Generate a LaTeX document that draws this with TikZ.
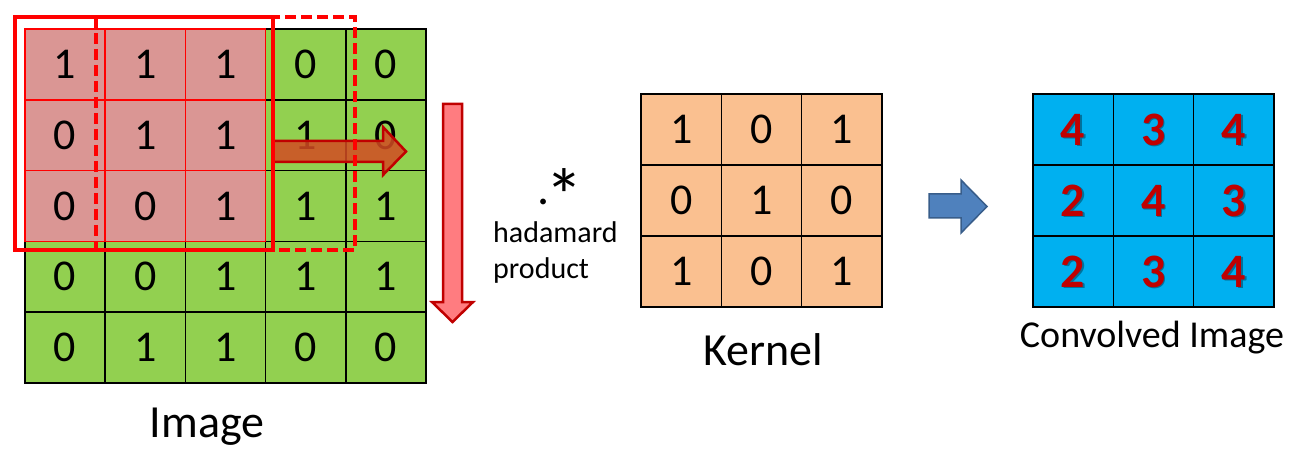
\documentclass[tikz,border=0pt]{standalone}
\usepackage{fontspec}
\setmainfont{Carlito}
\definecolor{imggreen}{RGB}{146,208,80}
\definecolor{imgpink}{RGB}{218,150,148}
\definecolor{kerorange}{RGB}{250,192,144}
\definecolor{convblue}{RGB}{0,176,240}
\definecolor{darkred}{RGB}{192,0,0}
\definecolor{brightred}{RGB}{255,0,0}
\definecolor{arroworange}{RGB}{210,76,35}
\definecolor{arrowpink}{RGB}{255,124,128}
\definecolor{arrowblue}{RGB}{79,129,189}
\definecolor{arrowblueedge}{RGB}{56,93,138}
\begin{document}
\begin{tikzpicture}[x=1pt,y=-1pt,
  basecell/.style={line width=1.6pt,inner sep=0pt,font=\fontsize{44}{44}\selectfont},
  greencell/.style={basecell,draw=black,fill=imggreen,minimum width=80.2pt,minimum height=70.8pt},
  pinkcell/.style={basecell,draw=brightred,fill=imgpink,minimum width=80.2pt,minimum height=70.8pt},
  kercell/.style={basecell,draw=black,fill=kerorange,minimum width=80.3pt,minimum height=71pt},
  convcell/.style={basecell,draw=black,fill=convblue,minimum width=80.3pt,minimum height=71pt},
  convtxt/.style={inner sep=0pt,text=darkred,font=\fontsize{48}{48}\selectfont\bfseries},
  shadowtxt/.style={convtxt,text=black,text opacity=0.35},
  labeltxt/.style={anchor=base,inner sep=0pt,font=\fontsize{46}{46}\selectfont},
  smalltxt/.style={anchor=base west,inner sep=0pt,font=\fontsize{30}{30}\selectfont},
  optxt/.style={anchor=base west,inner sep=0pt,font=\fontsize{48}{48}\selectfont},
  blockarrow/.style={line width=2.5pt,line join=miter}
]
\useasboundingbox (0,0) rectangle (1304,457);

% ---- Image grid ----
\def\imgvals{1,1,1,0,0, 0,1,1,1,0, 0,0,1,1,1, 0,0,1,1,1, 0,1,1,0,0}
\foreach \v [count=\i from 0] in \imgvals {
  \pgfmathtruncatemacro\r{\i/5}
  \pgfmathtruncatemacro\c{\i-5*\r}
  \pgfmathtruncatemacro\p{and(\r<3,\c<3)}
  \ifnum\p=0
    \node[greencell] (img-\r-\c) at ({65.1+80.2*\c},{64.4+70.8*\r}) {\v};
  \fi
}
\foreach \v [count=\i from 0] in \imgvals {
  \pgfmathtruncatemacro\r{\i/5}
  \pgfmathtruncatemacro\c{\i-5*\r}
  \pgfmathtruncatemacro\p{and(\r<3,\c<3)}
  \ifnum\p=1
    \node[pinkcell] (img-\r-\c) at ({65.1+80.2*\c},{64.4+70.8*\r}) {\v};
  \fi
}

% sliding arrow (right)
\draw[blockarrow,draw=darkred,fill=arroworange,fill opacity=0.85]
  (273,141) -- (383,141) -- (383,127) -- (406,151.5) -- (383,175) -- (383,162) -- (273,162) -- cycle;

% windows
\draw[brightred,line width=3.6pt,dash pattern=on 11pt off 5pt] (96,17) rectangle (355,250);
\draw[brightred,line width=3.6pt] (15,17) rectangle (273,250);

% down arrow
\draw[blockarrow,draw=darkred,fill=arrowpink]
  (443,104) -- (462,104) -- (462,302) -- (473,302) -- (452.5,322) -- (432,302) -- (443,302) -- cycle;

\node[labeltxt] (imglabel) at (207,437) {Image};

% ---- operator ----
\node[optxt] (op) at (537,205) {.\kern-4pt\raisebox{-18pt}[37pt][0pt]{\fontsize{76}{76}\selectfont*}};
\node[smalltxt] (had1) at (493,243) {hadamard};
\node[smalltxt] (had2) at (493,278) {product};

% ---- Kernel ----
\foreach \v [count=\i from 0] in {1,0,1, 0,1,0, 1,0,1} {
  \pgfmathtruncatemacro\r{\i/3}
  \pgfmathtruncatemacro\c{\i-3*\r}
  \node[kercell] (ker-\r-\c) at ({681.15+80.3*\c},{129.5+71*\r}) {\v};
}
\node[labeltxt] (kerlabel) at (763,365) {Kernel};

% blue arrow
\draw[line width=1.5pt,line join=miter,draw=arrowblueedge,fill=arrowblue]
  (929,194) -- (961,194) -- (961,180) -- (987,206.5) -- (961,233) -- (961,218) -- (929,218) -- cycle;

% ---- Convolved ----
\foreach \v [count=\i from 0] in {4,3,4, 2,4,3, 2,3,4} {
  \pgfmathtruncatemacro\r{\i/3}
  \pgfmathtruncatemacro\c{\i-3*\r}
  \node[convcell] (cv-\r-\c) at ({1073.15+80.3*\c},{129.5+71*\r}) {};
  \node[shadowtxt,xshift=1.5pt,yshift=-1.5pt] (cvs-\r-\c) at (cv-\r-\c.center) {\v};
  \node[convtxt] (cvt-\r-\c) at (cv-\r-\c.center) {\v};
}
\node[labeltxt,font=\fontsize{38}{38}\selectfont] (cvlabel) at (1152,347) {Convolved Image};
\end{tikzpicture}
\end{document}
